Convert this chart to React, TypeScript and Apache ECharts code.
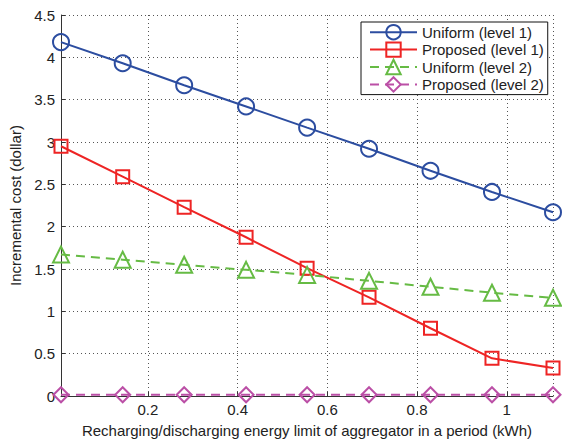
import React, { useEffect, useRef } from "react";
import * as echarts from "echarts";

const xValues = [0.0065, 0.144, 0.281, 0.419, 0.555, 0.693, 0.83, 0.967, 1.103];
const uniformL1 = [4.18, 3.93, 3.67, 3.42, 3.17, 2.92, 2.66, 2.41, 2.17];
const proposedL1 = [2.95, 2.59, 2.23, 1.875, 1.51, 1.165, 0.8, 0.445, 0.33];
const uniformL2 = [1.67, 1.61, 1.55, 1.49, 1.43, 1.36, 1.29, 1.22, 1.16];
const proposedL2 = [0.015, 0.015, 0.015, 0.015, 0.015, 0.015, 0.015, 0.015, 0.015];
const seriesNames = ["Uniform (level 1)", "Proposed (level 1)", "Uniform (level 2)", "Proposed (level 2)"];

const FONT = "Liberation Sans, Arial, Helvetica, sans-serif";

export default function App() {
  const ref = useRef<HTMLDivElement>(null);
  useEffect(() => {
    if (!ref.current) return;
    const chart = echarts.init(ref.current, undefined, { renderer: "svg" });
    const mk = (name: string, ys: number[], color: string, symbol: string, size: number, dashed: boolean) => ({
      name,
      type: "line",
      data: xValues.map((x, i) => [x, ys[i]]),
      symbol,
      symbolSize: size,
      showAllSymbol: true,
      clip: false,
      lineStyle: { color, width: 2, type: dashed ? [9, 6] : "solid" },
      itemStyle: { color: "rgba(255,255,255,0)", borderColor: color, borderWidth: 2 },
      emphasis: { disabled: true },
    });
    chart.setOption({
      animation: false,
      textStyle: { fontFamily: FONT },
      grid: { left: 61, right: 9, top: 15, bottom: 42, containLabel: false },
      legend: {
        orient: "vertical",
        left: 361,
        top: 22,
        padding: [2, 4, 2, 8],
        itemWidth: 47,
        itemHeight: 18,
        itemGap: 1,
        backgroundColor: "#fff",
        borderColor: "#111",
        borderWidth: 1,
        borderRadius: 0,
        textStyle: { fontSize: 15, color: "#222", fontFamily: FONT },
        data: seriesNames,
      },
      xAxis: {
        type: "value",
        min: xValues[0],
        max: xValues[xValues.length - 1],
        splitNumber: 5,
        name: "Recharging/discharging energy limit of aggregator in a period (kWh)",
        nameLocation: "middle",
        nameGap: 27,
        nameTextStyle: { fontSize: 15, color: "#222", fontFamily: FONT },
        axisLine: { show: true, lineStyle: { color: "#333", width: 1 } },
        axisTick: { show: true, inside: true, length: 4, lineStyle: { color: "#333" } },
        axisLabel: { showMinLabel: false, showMaxLabel: false, fontSize: 15, color: "#222", margin: 6, fontFamily: FONT },
        splitLine: { show: true, lineStyle: { color: "#555", type: [1, 3], width: 1 } },
      },
      yAxis: {
        type: "value",
        min: 0,
        max: 4.5,
        interval: 0.5,
        name: "Incremental cost (dollar)",
        nameLocation: "middle",
        nameRotate: 90,
        nameGap: 32,
        nameTextStyle: { fontSize: 15, color: "#222", fontFamily: FONT },
        axisLine: { show: true, lineStyle: { color: "#333", width: 1 } },
        axisTick: { show: true, inside: true, length: 4, lineStyle: { color: "#333" } },
        axisLabel: { fontSize: 15, color: "#222", margin: 6, fontFamily: FONT },
        splitLine: { show: true, lineStyle: { color: "#555", type: [1, 3], width: 1 } },
      },
      series: [
        mk(seriesNames[0], uniformL1, "#2C4DA0", "circle", 16, false),
        mk(seriesNames[1], proposedL1, "#EE2424", "rect", 13, false),
        mk(seriesNames[2], uniformL2, "#66BB44", "triangle", 16, true),
        mk(seriesNames[3], proposedL2, "#BB4FA6", "diamond", 15, true),
      ],
    });
    return () => chart.dispose();
  }, []);
  return <div ref={ref} style={{ position: "absolute", left: 0, top: 0, width: 562, height: 443 }} />;
}
